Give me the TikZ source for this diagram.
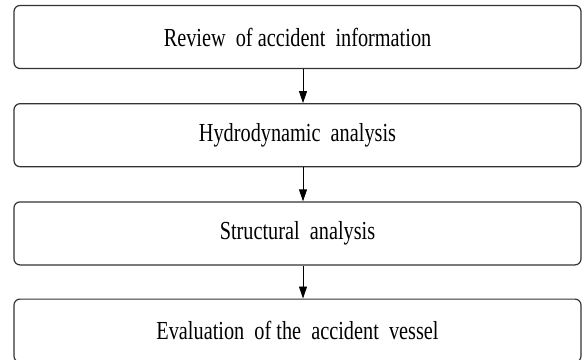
\documentclass[tikz,border=0pt]{standalone}
\usepackage{fontspec}
\setmainfont{Liberation Serif}
\usepackage{tikz}
\usetikzlibrary{positioning,calc}
\usetikzlibrary{arrows.meta}
\newcommand{\squeezetext}[1]{\scalebox{0.78}[1.0]{#1}}
\tikzset{
  stage/.style={draw=black!80,line width=1.2pt,rounded corners=6pt,fill=white,
    minimum width=567pt,minimum height=63pt,inner sep=0pt,
    font=\fontsize{26}{30}\selectfont},
  flow/.style={draw=black,line width=0.9pt,-{Triangle[length=12pt,width=8pt]}},
}

\begin{document}
\begin{tikzpicture}[x=1pt,y=1pt]
\useasboundingbox (0,0) rectangle (583,-359);
\node[stage] (review) at (297.5,-37) {\squeezetext{Review\ \ of accident\ \ information}};
\node[stage,below=34pt of review] (hydro) {\squeezetext{Hydrodynamic\ \ analysis}};
\node[stage,below=34pt of hydro] (struct) {\squeezetext{Structural\ \ analysis}};
\node[stage,below=33pt of struct] (eval) {\squeezetext{Evaluation\ \ of the\ \ accident\ \ vessel}};
\draw[flow] ([xshift=5.5pt]review.south) -- ([xshift=5.5pt]hydro.north);
\draw[flow] ([xshift=5.5pt]hydro.south) -- ([xshift=5.5pt]struct.north);
\draw[flow] ([xshift=5.5pt]struct.south) -- ([xshift=5.5pt]eval.north);
\end{tikzpicture}
\end{document}
